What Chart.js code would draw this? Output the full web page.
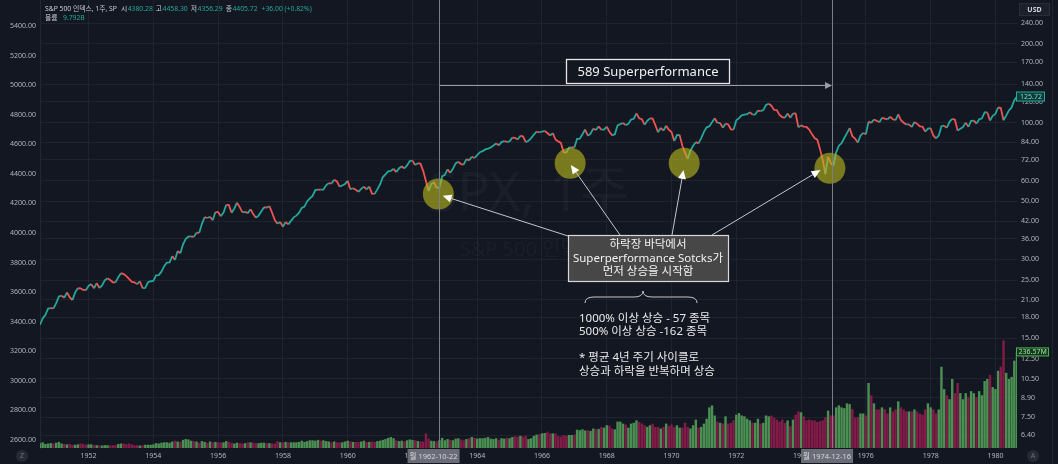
<!DOCTYPE html>
<html><head><meta charset="utf-8">
<script src="https://cdn.jsdelivr.net/npm/chart.js@4.4.1/dist/chart.umd.min.js"></script>
<style>html,body{margin:0;padding:0;background:#131722;overflow:hidden}canvas{display:block}</style>
</head><body>
<canvas id="c" width="1058" height="464"></canvas>
<script>
// first monthly bar = June 1950 (month-end closes, weekly S&P 500 chart read monthly)
const firstYear = 1950, firstMonth = 6;
const closes = [
 16.9,17.84,18.42,19.45,19.53,19.51,20.41,
 21.66,21.80,21.40,22.43,21.52,20.96,22.40,23.28,23.26,22.94,22.88,23.77,
 24.14,23.26,24.37,23.32,23.86,24.96,25.40,25.03,24.54,24.52,25.66,26.57,
 26.38,25.90,25.29,24.62,24.54,24.14,24.75,23.32,23.35,24.54,24.76,24.81,
 26.08,26.15,26.94,28.26,29.19,29.21,30.88,29.83,32.31,31.68,34.24,35.98,
 36.63,36.76,36.58,37.96,37.91,41.03,43.52,43.18,43.67,42.34,45.51,45.48,
 43.82,45.34,48.48,48.38,45.20,46.97,49.39,47.51,45.35,45.58,45.08,46.67,
 44.72,43.26,44.11,45.74,47.43,47.37,47.91,45.22,42.42,41.06,41.72,39.99,
 41.70,40.84,42.10,43.44,44.09,45.24,47.19,47.75,50.06,51.33,52.48,55.21,
 55.42,55.41,55.44,57.59,58.68,58.47,60.51,59.60,56.88,57.52,58.28,59.89,
 55.61,56.12,55.34,54.37,55.83,56.92,55.51,56.96,53.52,53.39,55.54,58.11,
 61.78,63.44,65.06,65.31,66.56,64.64,66.76,68.07,66.73,68.62,71.32,71.55,
 68.84,69.96,69.55,65.24,59.63,54.75,58.23,59.12,56.27,56.52,62.26,63.10,
 66.20,64.29,66.57,69.80,70.80,69.37,69.13,72.50,71.70,74.01,73.23,75.02,
 77.04,77.80,78.98,79.46,80.37,81.69,83.18,81.83,84.18,84.86,84.42,84.75,
 87.56,87.43,86.16,89.11,88.42,84.12,85.25,87.17,89.96,92.42,91.61,92.43,
 92.88,91.22,89.23,91.06,86.13,84.74,83.60,77.10,76.56,80.20,80.45,80.33,
 86.61,86.78,90.20,94.01,89.08,90.64,94.75,93.64,96.71,93.90,94.00,96.47,
 92.24,89.36,90.20,97.59,98.68,99.58,97.74,98.86,102.67,103.41,108.37,103.86,
 103.01,98.13,101.51,103.69,103.46,97.71,91.83,95.51,93.12,97.24,93.81,92.06,
 85.02,89.50,89.63,81.52,76.55,72.72,78.05,81.52,84.21,83.25,87.20,92.15,
 95.88,96.75,100.31,103.95,99.63,99.70,95.58,99.03,98.34,94.23,93.99,102.09,
 103.94,106.57,107.20,107.67,109.53,107.14,107.39,111.09,110.55,111.58,116.67,118.05,
 116.03,111.68,111.52,106.97,104.95,104.26,108.22,104.25,108.43,108.29,95.96,97.55,
 96.57,96.22,93.98,90.31,87.28,86.00,79.31,72.15,63.54,73.90,69.97,68.56,
 76.98,81.59,83.36,87.30,91.15,95.19,88.75,86.88,83.87,89.04,91.24,90.19,
 100.86,99.71,102.77,101.64,100.18,104.28,103.44,102.91,105.24,102.90,102.10,107.46,
 102.03,99.82,98.42,98.44,96.12,100.48,98.85,96.77,96.53,92.34,94.83,95.10,
 89.25,87.04,89.21,96.83,97.24,95.53,100.68,103.29,102.54,93.15,94.70,96.11,
 99.93,96.28,101.59,101.76,99.08,102.91,103.81,109.32,109.32,101.82,106.16,107.94,
 114.16,113.66,102.09,106.29,111.24,114.24,121.67,125.72
];
// weekly volume (millions), one reading per month
const volumes = [
 12,14,10,11,12,11,13,
 15,11,10,9,10,8,8,9,11,10,8,9,
 9,7,7,7,6,7,7,6,7,7,10,11,
 11,9,11,9,7,7,6,7,8,8,8,9,
 12,11,13,14,14,13,16,18,16,15,20,22,
 21,18,17,16,13,17,15,13,16,14,15,14,
 14,14,17,15,13,11,13,12,11,12,14,14,
 13,12,12,13,13,12,12,11,11,17,14,14,
 15,14,14,14,14,15,18,15,17,19,19,18,
 20,18,19,17,16,14,16,14,14,14,16,18,
 16,15,15,15,16,18,15,15,16,15,17,18,
 20,22,25,27,24,19,17,18,16,19,21,20,
 19,17,16,16,36,23,18,17,16,19,25,19,
 22,20,19,23,24,21,19,22,24,27,25,23,
 24,24,25,27,23,22,24,20,24,23,25,24,
 27,29,28,30,28,30,22,24,30,33,34,36,
 37,40,36,36,36,29,28,32,30,32,32,33,
 45,44,46,43,44,42,48,46,47,52,50,56,
 55,48,46,65,65,60,58,50,60,62,68,64,
 60,56,52,56,60,52,52,48,52,60,54,58,
 52,56,50,50,62,52,48,56,70,50,52,60,
 72,100,105,80,65,62,60,78,60,62,68,82,
 86,80,78,72,68,62,62,72,60,62,80,78,
 80,75,70,65,70,62,68,54,70,82,90,88,
 78,68,70,68,68,64,66,68,76,92,80,80,
 100,105,100,98,110,108,96,75,76,85,85,80,
 160,130,110,95,95,100,95,85,100,90,95,115,
 100,95,90,90,90,95,90,85,82,95,110,100,
 95,85,95,200,145,130,120,170,135,160,135,120,
 135,125,140,135,125,140,130,165,170,180,150,145,
 190,200,265,185,170,175,215,236.57
];
const yearTicks = [1952,1954,1956,1958,1960,1962,1964,1966,1968,1970,1972,1974,1976,1978,1980];
const priceTicks = [6.4,7.5,8.9,10.5,12.5,15,18,21,25,30,36,42,50,60,72,84,100,120,140,170,200,240];
const leftTicks = [2600,2800,3000,3200,3400,3600,3800,4000,4200,4400,4600,4800,5000,5200,5400];
const crossDates = [{label:'월 1962-10-22', t:1962.806},{label:'월 1974-12-16', t:1974.956}];
const bottomYears = [1962.80, 1966.87, 1970.39, 1974.89];
const bottomPrices = [53.3, 69.9, 69.9, 66.9];
const arrowTipYears = [1962.93, 1966.89, 1970.37, 1974.60];
const arrowTipPrices = [52.55, 68.9, 65.9, 65.9];

const UP = '#26a69a', DOWN = '#ef5350';
const FONT = "'Noto Sans','Noto Sans CJK KR',sans-serif";
Chart.defaults.font.family = FONT;
Chart.defaults.animation = false;

const t0 = firstYear + firstMonth / 12;
const pricePts = closes.map((v, i) => ({x: t0 + i / 12, y: v}));
const volPts = volumes.map((v, i) => ({x: t0 + i / 12, y: v}));
const volColors = closes.map((v, i) => (i === 0 || v >= closes[i - 1]) ? 'rgba(86,165,92,0.85)' : 'rgba(150,28,78,0.85)');
const circlePts = bottomYears.map((t, i) => ({x: t, y: bottomPrices[i]}));

function arrow(ctx, x1, y1, x2, y2, col, head, hl, hw) {
  const a = Math.atan2(y2 - y1, x2 - x1);
  ctx.strokeStyle = col; ctx.lineWidth = 1;
  ctx.beginPath(); ctx.moveTo(x1, y1); ctx.lineTo(x2 - Math.cos(a) * hl * 0.6, y2 - Math.sin(a) * hl * 0.6); ctx.stroke();
  ctx.fillStyle = head; ctx.beginPath(); ctx.moveTo(x2, y2);
  ctx.lineTo(x2 - hl * Math.cos(a) + hw * Math.sin(a), y2 - hl * Math.sin(a) - hw * Math.cos(a));
  ctx.lineTo(x2 - hl * Math.cos(a) - hw * Math.sin(a), y2 - hl * Math.sin(a) + hw * Math.cos(a));
  ctx.closePath(); ctx.fill();
}

const deco = {
  id: 'deco',
  beforeDatasetsDraw(chart) {
    const ctx = chart.ctx, a = chart.chartArea;
    ctx.save();
    ctx.fillStyle = 'rgba(255,255,255,0.03)';
    ctx.textAlign = 'center'; ctx.textBaseline = 'middle';
    ctx.font = '54px ' + FONT;
    ctx.fillText('SPX, 1주', (a.left + a.right) / 2, 196);
    ctx.font = '20px ' + FONT;
    ctx.fillText('S&P 500 인덱스', (a.left + a.right) / 2, 250);
    ctx.restore();
  },
  afterDatasetsDraw(chart) {
    const ctx = chart.ctx, a = chart.chartArea, sx = chart.scales.x, sy = chart.scales.y;
    ctx.save();
    // crosshair vertical lines
    ctx.strokeStyle = '#7b7e88'; ctx.lineWidth = 1;
    crossDates.forEach(d => {
      const x = Math.round(sx.getPixelForValue(d.t)) + 0.5;
      ctx.beginPath(); ctx.moveTo(x, a.top); ctx.lineTo(x, a.bottom); ctx.stroke();
    });
    // horizontal range arrow
    const xa = sx.getPixelForValue(crossDates[0].t), xb = sx.getPixelForValue(crossDates[1].t);
    arrow(ctx, xa + 1, 85.5, xb, 85.5, '#9a9da6', '#9a9da6', 7, 3.5);
    // title box
    ctx.fillStyle = '#131722'; ctx.fillRect(566, 59, 164, 24);
    ctx.strokeStyle = '#e6e6e6'; ctx.lineWidth = 1.3; ctx.strokeRect(566.5, 59.5, 163, 24);
    ctx.fillStyle = '#f0f0f0'; ctx.font = '13px ' + FONT; ctx.textAlign = 'center'; ctx.textBaseline = 'middle';
    ctx.fillText('589 Superperformance', 648, 72);
    // arrows from the note box to the bottoms
    const srcs = [[568, 236], [620, 235], [672, 235], [712, 235]];
    arrowTipYears.forEach((t, i) => {
      arrow(ctx, srcs[i][0], srcs[i][1], sx.getPixelForValue(t), sy.getPixelForValue(arrowTipPrices[i]), '#c4c6cc', '#ffffff', 9, 4);
    });
    // note box
    ctx.fillStyle = '#474747'; ctx.fillRect(568, 235, 161, 47);
    ctx.strokeStyle = '#d8d8d8'; ctx.lineWidth = 1.2; ctx.strokeRect(568.5, 235.5, 160, 46);
    ctx.fillStyle = '#f2f2f2'; ctx.font = '11.5px ' + FONT;
    ctx.fillText('하락장 바닥에서', 648, 245);
    ctx.fillText('Superperformance Sotcks가', 648, 258.5);
    ctx.fillText('먼저 상승을 시작함', 648, 272);
    // brace
    ctx.strokeStyle = '#c8c8c8'; ctx.lineWidth = 1;
    ctx.beginPath();
    ctx.moveTo(585, 303); ctx.quadraticCurveTo(585, 297, 594, 297); ctx.lineTo(634, 297);
    ctx.quadraticCurveTo(643, 297, 643, 291); ctx.quadraticCurveTo(643, 297, 652, 297);
    ctx.lineTo(688, 297); ctx.quadraticCurveTo(697, 297, 697, 303); ctx.stroke();
    // notes
    ctx.textAlign = 'left'; ctx.fillStyle = '#e8e8e8'; ctx.font = '11.5px ' + FONT;
    ctx.fillText('1000% 이상 상승 - 57 종목', 579, 319);
    ctx.fillText('500% 이상 상승 -162 종목', 579, 332);
    ctx.fillText('* 평균 4년 주기 사이클로', 579, 358);
    ctx.fillText('상승과 하락을 반복하며 상승', 579, 372);
    ctx.restore();
  },
  afterDraw(chart) {
    const ctx = chart.ctx, sx = chart.scales.x, sy = chart.scales.y, sv = chart.scales.yv;
    ctx.save();
    ctx.textBaseline = 'middle';
    // header
    ctx.font = '6.8px ' + FONT; ctx.textAlign = 'left';
    const gray = '#c9ccd4', green = '#26a69a';
    let hx = 45;
    [['S&P 500 인덱스, 1주, SP', gray, 4], ['시', gray, 0.5], ['4380.28', green, 3], ['고', gray, 0.5], ['4458.30', green, 3],
     ['저', gray, 0.5], ['4356.29', green, 3], ['종', gray, 0.5], ['4405.72', green, 4], ['+36.00 (+0.82%)', green, 0]]
      .forEach(p => { ctx.fillStyle = p[1]; ctx.fillText(p[0], hx, 9); hx += ctx.measureText(p[0]).width + p[2]; });
    ctx.fillStyle = gray; ctx.fillText('볼륨', 45, 18.5);
    ctx.fillStyle = green; ctx.fillText('9.792B', 63, 18.5);
    // crosshair date labels
    crossDates.forEach(d => {
      const x = sx.getPixelForValue(d.t) - 5;
      ctx.fillStyle = '#6a6d77'; ctx.fillRect(x - 26, 449, 52, 14);
      ctx.fillStyle = '#d4d6db'; ctx.textAlign = 'center'; ctx.font = '7.5px ' + FONT;
      ctx.fillText(d.label, x, 456.5);
    });
    // last price label
    const yp = sy.getPixelForValue(closes[closes.length - 1]);
    ctx.fillStyle = '#0e3b37'; ctx.fillRect(1016, yp - 5, 29, 10);
    ctx.strokeStyle = '#26a69a'; ctx.lineWidth = 1; ctx.strokeRect(1016.5, yp - 4.5, 28, 9);
    ctx.fillStyle = '#7fd9cf'; ctx.textAlign = 'left'; ctx.font = '7px ' + FONT;
    ctx.fillText(closes[closes.length - 1].toFixed(2), 1020, yp);
    // last volume label
    const yv = sv.getPixelForValue(volumes[volumes.length - 1]);
    ctx.fillStyle = '#16351d'; ctx.fillRect(1016, yv - 4.5, 33, 9);
    ctx.strokeStyle = '#4caf50'; ctx.strokeRect(1016.5, yv - 4, 32, 8);
    ctx.fillStyle = '#9be3a0'; ctx.fillText(volumes[volumes.length - 1].toFixed(2) + 'M', 1018.5, yv);
    // USD box
    ctx.fillStyle = '#1c202b'; ctx.fillRect(1019, 3, 31, 13);
    ctx.strokeStyle = '#2a2e39'; ctx.strokeRect(1019.5, 3.5, 30, 12);
    ctx.fillStyle = '#d1d4dc'; ctx.textAlign = 'center'; ctx.font = 'bold 7px ' + FONT;
    ctx.fillText('USD', 1034.5, 10);
    // Z / A buttons
    [[22, 456, 'Z'], [1033, 456, 'A']].forEach(b => {
      ctx.fillStyle = '#262a35'; ctx.beginPath(); ctx.arc(b[0], b[1], 6, 0, Math.PI * 2); ctx.fill();
      ctx.fillStyle = '#6f727c'; ctx.font = '7px ' + FONT; ctx.fillText(b[2], b[0], b[1]);
    });
    // right edge separator
    ctx.strokeStyle = '#222632'; ctx.beginPath(); ctx.moveTo(1052.5, 0); ctx.lineTo(1052.5, 464); ctx.stroke();
    ctx.restore();
  }
};

const tickColor = '#b2b5be';
const noPad = s => { s.paddingTop = 0; s.paddingBottom = 0; };
new Chart(document.getElementById('c'), {
  data: {
    datasets: [
      { type: 'scatter', data: circlePts, xAxisID: 'x', yAxisID: 'y', order: 0,
        pointRadius: 15.5, pointHoverRadius: 15.5, backgroundColor: 'rgba(190,186,28,0.6)', borderWidth: 0 },
      { type: 'line', data: pricePts, xAxisID: 'x', yAxisID: 'y', order: 1,
        borderWidth: 1.8, pointRadius: 0, tension: 0, borderColor: UP,
        segment: { borderColor: c => c.p1.parsed.y >= c.p0.parsed.y ? UP : DOWN } },
      { type: 'bar', data: volPts, xAxisID: 'x', yAxisID: 'yv', order: 2,
        backgroundColor: volColors, barPercentage: 0.9, categoryPercentage: 1, borderWidth: 0 }
    ]
  },
  options: {
    responsive: false, devicePixelRatio: 1,
    layout: { padding: 0, autoPadding: false },
    plugins: { legend: { display: false }, tooltip: { enabled: false } },
    scales: {
      x: { type: 'linear', offset: false, min: 1950.5, max: 1950.5 + 362 / 12, position: 'bottom',
        afterBuildTicks: s => { s.ticks = yearTicks.map(v => ({ value: v })); },
        afterFit: s => { s.height = 16; s.paddingLeft = 0; s.paddingRight = 0; },
        ticks: { color: tickColor, font: { size: 7 }, padding: 4, autoSkip: false, maxRotation: 0, callback: v => String(v) },
        grid: { color: 'rgba(42,46,57,0.55)', drawTicks: false, offset: false }, border: { display: false } },
      yL: { type: 'linear', position: 'left', min: 2545.9, max: 5575.9,
        afterBuildTicks: s => { s.ticks = leftTicks.map(v => ({ value: v })); },
        afterFit: s => { s.width = 40; noPad(s); },
        ticks: { color: tickColor, font: { size: 7 }, padding: 4, autoSkip: false, callback: v => v.toFixed(2) },
        grid: { display: false, drawTicks: false }, border: { display: true, color: '#232733' } },
      y: { type: 'logarithmic', position: 'right', min: 5.71, max: 293.9,
        afterBuildTicks: s => { s.ticks = priceTicks.map(v => ({ value: v })); },
        afterFit: s => { s.width = 41; noPad(s); },
        ticks: { color: tickColor, font: { size: 7 }, padding: 4, autoSkip: false, callback: v => Number(v).toFixed(2) },
        grid: { color: 'rgba(42,46,57,0.55)', drawTicks: false }, border: { display: false } },
      yv: { type: 'linear', display: false, min: 0, max: 1103, afterFit: noPad }
    }
  },
  plugins: [deco]
});
</script>
</body></html>
